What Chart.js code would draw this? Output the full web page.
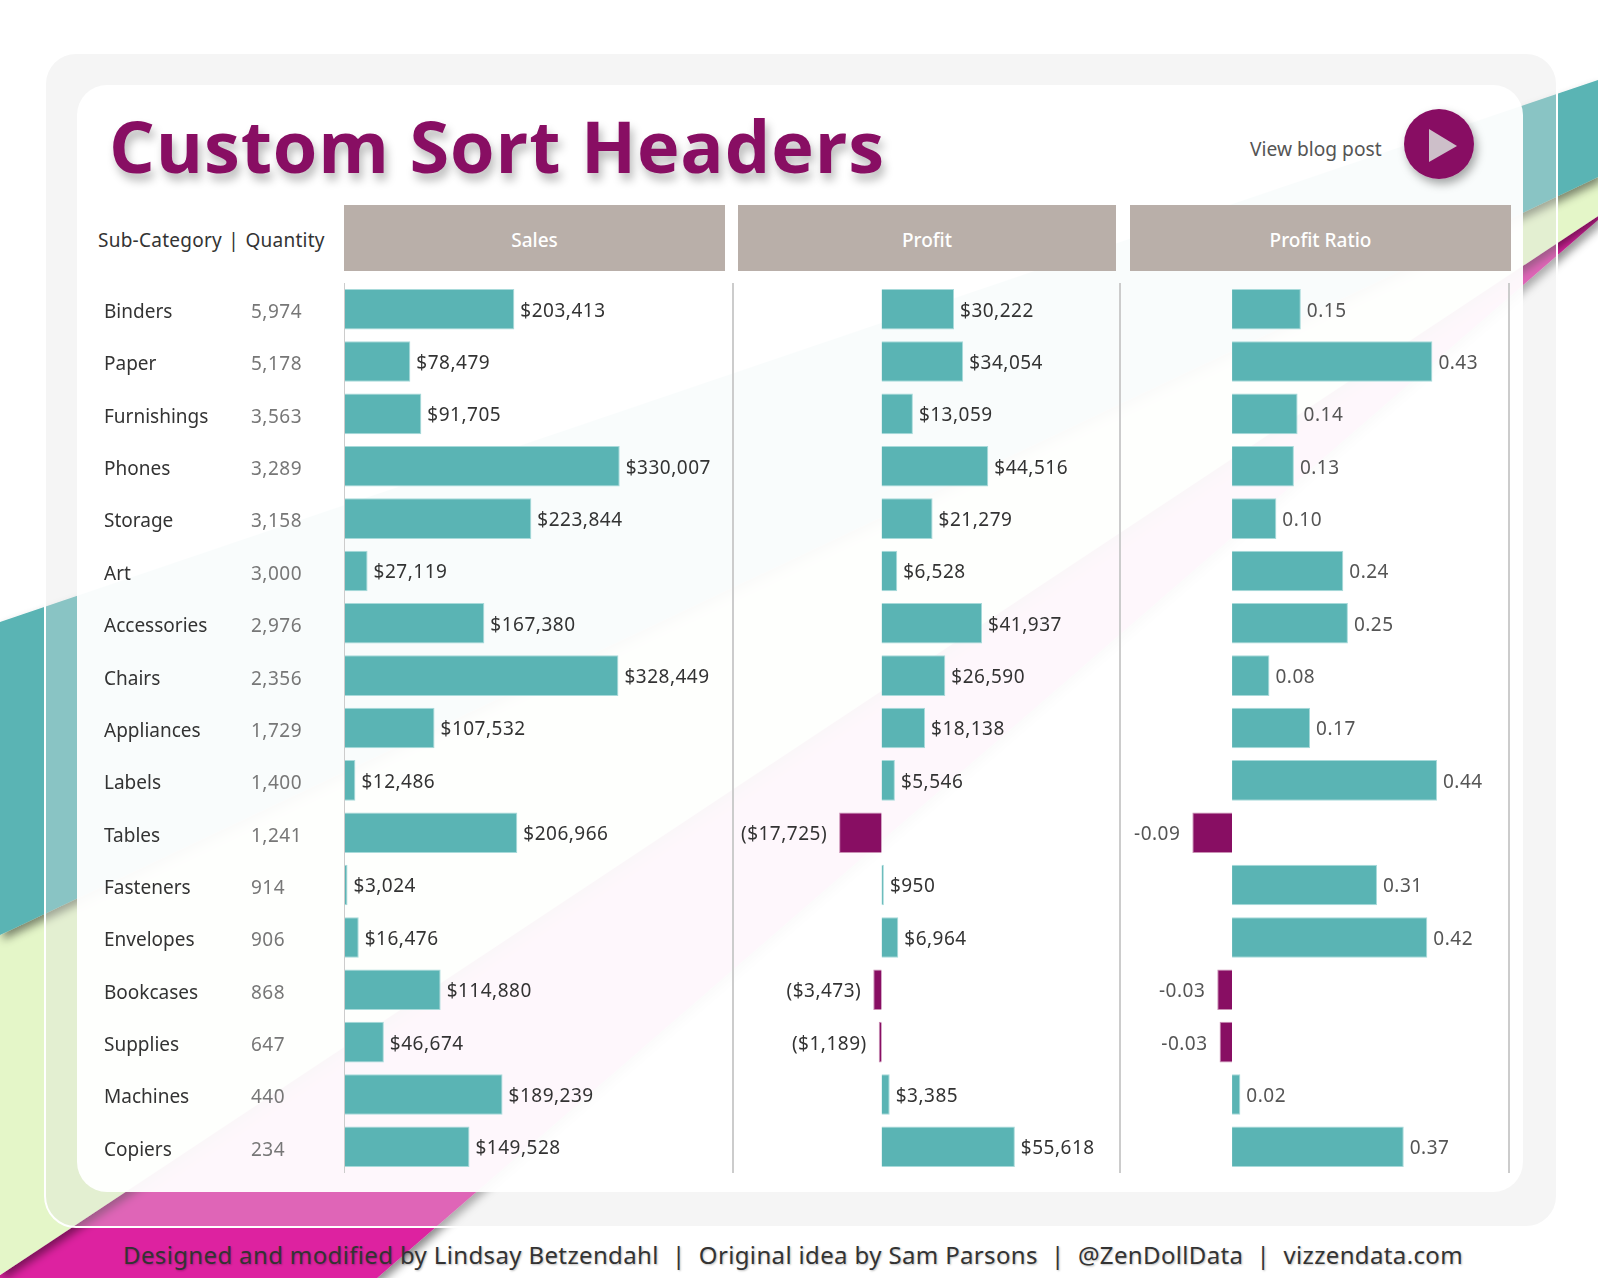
<!DOCTYPE html>
<html lang="en">
<head>
    <meta charset="UTF-8">
    <title>Custom Sort Headers</title>
    <script src="https://cdn.jsdelivr.net/npm/chart.js"></script>
    <style>
        html, body { margin: 0; width: 1598px; height: 1278px; overflow: hidden; background: #fff; font-family: "Noto Sans", sans-serif; }
        .abs { position: absolute; }
        #ribbons { left: 0; top: 0; }
        #panel { box-sizing: border-box; left: 44px; top: 52px; width: 1514px; height: 1176px; border-radius: 32px; background: rgba(226,226,226,.35); border: 2px solid #fff; }
        #card { left: 77px; top: 85px; width: 1446px; height: 1107px; border-radius: 30px; background: rgba(255,255,255,.95); }
        #title { left: 109px; top: 96px; font: 700 72px "Open Sans", sans-serif; letter-spacing: .9px; color: #880e63; text-shadow: 3px 7px 10px rgba(0,0,0,.28); white-space: pre; }
        #blog { left: 1250px; top: 135px; font-size: 19.2px; color: #555; }
        #headLeft { left: 98px; top: 227px; font-size: 19px; letter-spacing: .25px; word-spacing: -2px; color: #333; white-space: pre; }
        .head { top: 205px; height: 66px; line-height: 70px; background: #b9afa9; color: #fff; text-align: center; font-size: 19px; font-weight: 500; }
        .rule { top: 283px; height: 890px; width: 1.5px; background: #ccc; }
        #footer { left: 123px; top: 1238px; font: 24px "Noto Sans", sans-serif; letter-spacing: .36px; color: #333; white-space: pre; text-shadow: 1px 1px 2px rgba(0,0,0,.25); }
        canvas { position: absolute; }
    </style>
</head>
<body>
    <svg id="ribbons" class="abs" width="1598" height="1278">
        <defs>
            <filter id="edge" filterUnits="userSpaceOnUse" x="0" y="0" width="1598" height="1278">
                <feDropShadow dx="3" dy="5" stdDeviation="4" flood-color="#000" flood-opacity=".45"/>
            </filter>
        </defs>
        <polygon points="0,1275 1598,216 1598,220 377,1278 0,1278" fill="#dd22a0" filter="url(#edge)"/>
        <polygon points="0,935 1598,177 1598,216 0,1275" fill="#e4f6c8" filter="url(#edge)"/>
        <polygon points="0,622 1598,80 1598,177 0,935" fill="#5ab4b4" filter="url(#edge)"/>
    </svg>
    <div id="panel" class="abs"></div>
    <div id="card" class="abs"></div>

    <div id="title" class="abs">Custom Sort Headers</div>
    <div id="blog" class="abs">View blog post</div>
    <svg class="abs" style="left:1395px;top:100px" width="100" height="100">
        <defs>
            <filter id="btn" x="-30%" y="-30%" width="160%" height="160%">
                <feDropShadow dx="3" dy="5" stdDeviation="5" flood-color="#000" flood-opacity=".35"/>
            </filter>
        </defs>
        <circle cx="44" cy="44" r="35" fill="#880e63" filter="url(#btn)"/>
        <polygon points="34,29 62,46 34,62" fill="#cdbfc9"/>
    </svg>

    <div id="headLeft" class="abs">Sub-Category  |  Quantity</div>
    <div class="abs head" style="left:344px;width:381px">Sales</div>
    <div class="abs head" style="left:738px;width:378px">Profit</div>
    <div class="abs head" style="left:1130px;width:381px">Profit Ratio</div>

    <div class="abs rule" style="left:344px;width:1px"></div>
    <div class="abs rule" style="left:732px"></div>
    <div class="abs rule" style="left:1119px"></div>
    <div class="abs rule" style="left:1508px"></div>

    <canvas id="salesChart" width="641" height="890" style="left:104px;top:283px"></canvas>
    <canvas id="profitChart" width="388" height="890" style="left:733px;top:283px"></canvas>
    <canvas id="ratioChart" width="390" height="890" style="left:1119px;top:283px"></canvas>

    <div id="footer" class="abs">Designed and modified by Lindsay Betzendahl  |  Original idea by Sam Parsons  |  @ZenDollData  |  vizzendata.com</div>

    <script>
        const subCategories = ['Binders', 'Paper', 'Furnishings', 'Phones', 'Storage', 'Art', 'Accessories', 'Chairs', 'Appliances', 'Labels', 'Tables', 'Fasteners', 'Envelopes', 'Bookcases', 'Supplies', 'Machines', 'Copiers'];
        const quantities = ['5,974', '5,178', '3,563', '3,289', '3,158', '3,000', '2,976', '2,356', '1,729', '1,400', '1,241', '914', '906', '868', '647', '440', '234'];
        const salesValues = [203413, 78479, 91705, 330007, 223844, 27119, 167380, 328449, 107532, 12486, 206966, 3024, 16476, 114880, 46674, 189239, 149528];
        const profitValues = [30222, 34054, 13059, 44516, 21279, 6528, 41937, 26590, 18138, 5546, -17725, 950, 6964, -3473, -1189, 3385, 55618];
        const ratioValues = [0.149, 0.434, 0.142, 0.134, 0.096, 0.241, 0.251, 0.081, 0.169, 0.444, -0.086, 0.314, 0.423, -0.032, -0.027, 0.018, 0.372];

        const TEAL = '#5ab4b4';
        const PURPLE = '#880e63';
        const FONT = '19px "Noto Sans", sans-serif';

        function money(v) {
            const s = '$' + Math.abs(v).toLocaleString('en-US');
            return v < 0 ? '(' + s + ')' : s;
        }

        // value label next to the end of each bar
        const valueLabels = {
            id: 'valueLabels',
            afterDatasetsDraw(chart, args, opts) {
                const ctx = chart.ctx;
                const values = chart.data.datasets[0].data;
                ctx.save();
                ctx.font = FONT;
                ctx.letterSpacing = '0.5px';
                ctx.fillStyle = opts.color;
                ctx.textBaseline = 'middle';
                chart.getDatasetMeta(0).data.forEach((bar, i) => {
                    const neg = values[i] < 0;
                    ctx.textAlign = neg ? 'right' : 'left';
                    ctx.fillText(opts.format(values[i]), bar.x + (neg ? -12 : 6), bar.y + 2);
                });
                ctx.restore();
            }
        };

        // sub-category names and quantities left of the sales bars
        const rowHeaders = {
            id: 'rowHeaders',
            afterDraw(chart) {
                if (chart.canvas.id !== 'salesChart') return;
                const ctx = chart.ctx;
                const yScale = chart.scales.y;
                ctx.save();
                ctx.font = FONT;
                ctx.textBaseline = 'middle';
                ctx.textAlign = 'left';
                subCategories.forEach((name, i) => {
                    const y = yScale.getPixelForTick(i) + 3.5;
                    ctx.letterSpacing = '0px';
                    ctx.fillStyle = '#333';
                    ctx.fillText(name, 0, y);
                    ctx.letterSpacing = '0.5px';
                    ctx.fillStyle = '#777';
                    ctx.fillText(quantities[i], 147, y);
                });
                ctx.restore();
            }
        };

        function barChart(id, values, min, max, format, color, leftPad) {
            return new Chart(document.getElementById(id), {
                type: 'bar',
                data: {
                    labels: subCategories,
                    datasets: [{
                        data: values,
                        backgroundColor: values.map(v => v < 0 ? PURPLE : TEAL),
                        borderColor: values.map(v => v < 0 ? '#c98fb4' : '#a8dada'),
                        borderWidth: 1,
                        categoryPercentage: 1,
                        barPercentage: 0.775
                    }]
                },
                options: {
                    indexAxis: 'y',
                    responsive: false,
                    animation: false,
                    layout: { padding: { left: leftPad, right: 0, top: 0, bottom: 0 } },
                    scales: {
                        x: { display: false, min: min, max: max },
                        y: { display: false }
                    },
                    plugins: {
                        legend: { display: false },
                        tooltip: { enabled: false },
                        valueLabels: { format: format, color: color }
                    }
                },
                plugins: [valueLabels, rowHeaders]
            });
        }

        barChart('salesChart', salesValues, 0, 480500, money, '#333', 241);
        barChart('profitChart', profitValues, -62020, 99917, money, '#333', 0);
        barChart('ratioChart', ratioValues, -0.2449, 0.6, v => v.toFixed(2), '#555', 0);
    </script>
</body>
</html>
